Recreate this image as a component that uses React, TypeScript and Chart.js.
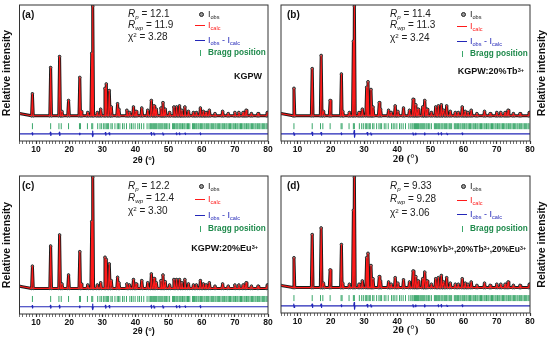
import React, { useEffect, useRef } from 'react';
import { Chart, registerables } from 'chart.js';
Chart.register(...registerables);

// ---------- data ----------
const peakPos = [8.9, 14.4, 17.1, 17.8, 19.8, 23.2, 23.6, 25.6, 26.8, 27.1, 28.5, 29.5, 30.8, 31.2, 32.1, 32.7, 34.6, 35.0, 37.4, 38.2, 39.4, 40.2, 41.9, 43.7, 44.8, 45.6, 46.3, 47.7, 48.3, 49.0, 50.3, 51.6, 52.4, 53.3, 54.0, 54.9, 56.0, 57.5, 58.4, 59.6, 60.5, 61.3, 62.3, 64.0, 66.3, 68.0, 70.0, 71.2, 72.5, 73.4, 75.0, 77.0, 79.8];

const heightsA = [0.20, 0.44, 0.54, 0.04, 0.14, 0.35, 0.04, 0.03, 0.57, 1.00, 0.03, 0.06, 0.25, 0.29, 0.23, 0.08, 0.11, 0.06, 0.05, 0.03, 0.08, 0.04, 0.07, 0.05, 0.14, 0.09, 0.06, 0.07, 0.12, 0.06, 0.03, 0.08, 0.08, 0.09, 0.05, 0.08, 0.04, 0.03, 0.03, 0.07, 0.04, 0.03, 0.05, 0.02, 0.04, 0.02, 0.03, 0.03, 0.03, 0.05, 0.02, 0.02, 0.03];
const heightsB = [0.25, 0.43, 0.55, 0.04, 0.14, 0.38, 0.04, 0.03, 0.68, 1.00, 0.03, 0.06, 0.26, 0.31, 0.24, 0.08, 0.12, 0.06, 0.05, 0.03, 0.09, 0.04, 0.07, 0.05, 0.15, 0.10, 0.06, 0.08, 0.14, 0.06, 0.03, 0.08, 0.09, 0.10, 0.05, 0.09, 0.04, 0.03, 0.03, 0.08, 0.04, 0.03, 0.05, 0.02, 0.04, 0.02, 0.03, 0.03, 0.03, 0.05, 0.02, 0.02, 0.03];
const heightsC = [0.20, 0.38, 0.48, 0.04, 0.12, 0.33, 0.04, 0.03, 0.60, 1.00, 0.03, 0.05, 0.28, 0.26, 0.22, 0.07, 0.10, 0.05, 0.04, 0.03, 0.08, 0.04, 0.07, 0.05, 0.13, 0.09, 0.05, 0.07, 0.12, 0.06, 0.03, 0.08, 0.08, 0.08, 0.05, 0.08, 0.04, 0.03, 0.03, 0.07, 0.04, 0.03, 0.05, 0.02, 0.04, 0.02, 0.03, 0.03, 0.03, 0.05, 0.02, 0.02, 0.03];
const heightsD = [0.27, 0.48, 0.54, 0.04, 0.16, 0.39, 0.04, 0.03, 0.70, 1.00, 0.03, 0.06, 0.27, 0.31, 0.20, 0.08, 0.10, 0.06, 0.05, 0.03, 0.09, 0.04, 0.07, 0.05, 0.15, 0.10, 0.06, 0.08, 0.14, 0.06, 0.03, 0.08, 0.09, 0.11, 0.05, 0.09, 0.04, 0.03, 0.03, 0.08, 0.04, 0.03, 0.05, 0.02, 0.04, 0.02, 0.03, 0.03, 0.03, 0.05, 0.02, 0.02, 0.03];

const braggPos = [8.9, 14.4, 16.9, 17.6, 19.8, 23.1, 23.4, 25.5, 26.8, 27.1, 28.6, 29.3, 29.8, 30.4, 30.8, 31.2, 31.6, 31.9, 32.6, 33.0, 33.8, 34.5, 34.9, 35.3, 36.1, 36.6, 37.3, 38.3, 38.8, 39.3, 39.9, 40.7, 41.2, 41.8, 42.5, 43.5, 44.1, 44.5, 44.8, 45.2, 45.5, 45.8, 46.1, 46.4, 46.8, 47.1, 47.4, 47.7, 48.0, 48.3, 48.7, 49.0, 49.4, 49.8, 50.3, 51.2, 51.5, 51.8, 52.2, 52.5, 52.8, 53.2, 53.5, 53.8, 54.2, 54.6, 54.9, 55.3, 55.7, 56.0, 56.4, 57.2, 57.5, 57.8, 58.2, 58.5, 58.9, 59.2, 59.6, 59.9, 60.3, 60.7, 61.0, 61.4, 61.8, 62.1, 62.5, 62.9, 63.2, 63.6, 64.0, 64.3, 64.7, 65.1, 65.4, 65.8, 66.2, 66.5, 66.9, 67.3, 67.6, 68.0, 68.4, 68.7, 69.1, 69.5, 69.8, 70.2, 70.6, 70.9, 71.3, 71.7, 72.0, 72.4, 72.8, 73.1, 73.5, 73.9, 74.2, 74.6, 75.0, 75.3, 75.7, 76.1, 76.4, 76.8, 77.2, 77.5, 77.9, 78.3, 78.6, 79.0, 79.4, 79.7];

const diffPos = [8.9, 14.4, 17.1, 23.2, 27.1, 31.0, 32.1, 44.8, 45.6, 48.3, 52.4, 53.3, 55.0, 59.6];
const diffAmpA = [0.010, 0.015, 0.015, 0.008, 0.025, 0.012, 0.010, 0.012, 0.010, 0.010, 0.008, 0.008, 0.006, 0.008];
const diffAmpB = [0.012, 0.015, 0.012, 0.008, 0.030, 0.012, 0.010, 0.010, 0.008, 0.010, 0.008, 0.010, 0.006, 0.008];
const diffAmpC = [0.010, 0.012, 0.012, 0.008, 0.025, 0.012, 0.010, 0.012, 0.010, 0.010, 0.008, 0.008, 0.006, 0.008];
const diffAmpD = [0.015, 0.015, 0.015, 0.008, 0.030, 0.012, 0.010, 0.010, 0.008, 0.010, 0.008, 0.010, 0.006, 0.008];

const panelTags = ['(a)', '(b)', '(c)', '(d)'];
const rpValues = ['12.1', '11.4', '12.2', '9.33'];
const rwpValues = ['11.9', '11.3', '12.4', '9.28'];
const chiValues = ['3.28', '3.24', '3.30', '3.06'];
const xTickLabels = [10, 20, 30, 40, 50, 60, 70, 80];
const xMin = 5;
const xMax = 80;
const bgStart = 0.02;
const bgEnd = 0.03;
const braggLevel = -0.095;
const diffLevel = -0.165;

// ---------- helpers ----------
const W = 275;
const H = 171;
const SANS = '"Liberation Sans", Arial, sans-serif';
const SERIF = '"Liberation Serif", "Times New Roman", serif';

function profile(h: number[]) {
  const w = 0.25;
  const pts: { x: number; y: number }[] = [{ x: xMin, y: bgStart }];
  peakPos.forEach((p, i) => {
    const prev = i > 0 ? peakPos[i - 1] : -Infinity;
    const next = i < peakPos.length - 1 ? peakPos[i + 1] : Infinity;
    const lb = Math.max(p - w, (p + prev) / 2);
    const rb = Math.min(p + w, (p + next) / 2);
    if (pts[pts.length - 1].x < lb) pts.push({ x: lb, y: 0 });
    pts.push({ x: p, y: h[i] });
    pts.push({ x: rb, y: 0 });
  });
  pts.push({ x: xMax, y: bgEnd });
  return pts;
}

function diffCurve(a: number[]) {
  const pts: { x: number; y: number }[] = [{ x: xMin, y: diffLevel }];
  diffPos.forEach((p, i) => {
    pts.push(
      { x: p - 0.2, y: diffLevel },
      { x: p - 0.05, y: diffLevel + a[i] },
      { x: p + 0.05, y: diffLevel - a[i] },
      { x: p + 0.2, y: diffLevel }
    );
  });
  pts.push({ x: xMax, y: diffLevel });
  return pts;
}

const frameAndTitle = {
  id: 'frameAndTitle',
  afterDraw(chart: any, _a: any, opts: any) {
    const { ctx, chartArea } = chart;
    ctx.save();
    ctx.strokeStyle = '#333';
    ctx.lineWidth = 1;
    ctx.strokeRect(chartArea.left, chartArea.top, chartArea.right - chartArea.left, chartArea.bottom - chartArea.top);
    ctx.translate(opts.x, (chartArea.top + chartArea.bottom) / 2);
    ctx.rotate(-Math.PI / 2);
    ctx.fillStyle = '#111';
    ctx.font = 'bold 10.5px ' + SANS;
    ctx.textAlign = 'center';
    ctx.textBaseline = 'middle';
    ctx.fillText('Relative intensity', 0, 0);
    ctx.restore();
  },
};

type Cfg = {
  idx: number;
  left: number;
  top: number;
  heights: number[];
  diffAmp: number[];
  area: { l: number; r: number; t: number; b: number };
  yTitleX: number;
  titleFont: string;
  titleSize: number;
  tagX: number;
  statsX: number;
  statsY: number[];
  legX: number;
  legY: number[];
  sample: React.ReactNode;
  sampleRight: number;
  sampleY: number;
  sampleSize: number;
};

const Sub = ({ children }: any) => (
  <span style={{ fontSize: '0.62em', position: 'relative', top: '0.35em' }}>{children}</span>
);
const Sup = ({ children }: any) => (
  <span style={{ fontSize: '0.62em', position: 'relative', top: '-0.45em' }}>{children}</span>
);

function Txt({ x, y, right, children, style }: any) {
  const pos: any = right !== undefined ? { right: W - right } : { left: x };
  return (
    <div
      style={{
        position: 'absolute',
        top: y - 6,
        lineHeight: '12px',
        height: 12,
        whiteSpace: 'nowrap',
        fontFamily: SANS,
        fontSize: 10,
        color: '#222',
        ...pos,
        ...style,
      }}
    >
      {children}
    </div>
  );
}

function Panel({ cfg }: { cfg: Cfg }) {
  const ref = useRef<HTMLCanvasElement>(null);
  useEffect(() => {
    const obs = profile(cfg.heights);
    const calc = profile(cfg.heights);
    const padBottom = 5;
    const chart = new Chart(ref.current as HTMLCanvasElement, {
      type: 'line',
      data: {
        datasets: [
          {
            label: 'Icalc',
            data: calc,
            borderColor: '#ff1a1a',
            borderWidth: 1.1,
            borderJoinStyle: 'round',
            pointRadius: 0,
            order: 0,
          },
          {
            label: 'Iobs',
            data: obs,
            borderColor: '#1a1a1a',
            borderWidth: 3,
            borderJoinStyle: 'round',
            pointRadius: 1.3,
            pointBackgroundColor: '#9a9a9a',
            pointBorderColor: '#222',
            pointBorderWidth: 0.8,
            order: 1,
          },
          {
            label: 'Iobs - Icalc',
            data: diffCurve(cfg.diffAmp),
            borderColor: '#2327b8',
            borderWidth: 1.2,
            borderJoinStyle: 'round',
            pointRadius: 0,
            order: 2,
          },
          {
            label: 'Bragg position',
            data: braggPos.map((p) => ({ x: p, y: braggLevel })),
            showLine: false,
            pointStyle: 'line',
            rotation: 90,
            pointRadius: 3,
            borderColor: '#3ba76b',
            borderWidth: 1,
            order: 3,
          } as any,
        ],
      },
      options: {
        animation: false,
        responsive: false,
        devicePixelRatio: 1,
        layout: {
          padding: { left: cfg.area.l, right: W - cfg.area.r, top: cfg.area.t, bottom: padBottom },
        },
        plugins: {
          legend: { display: false },
          tooltip: { enabled: false },
          frameAndTitle: { x: cfg.yTitleX },
        } as any,
        scales: {
          x: {
            type: 'linear',
            min: xMin,
            max: xMax,
            afterFit: (s: any) => {
              s.height = H - padBottom - cfg.area.b;
            },
            border: { display: false },
            grid: {
              drawOnChartArea: false,
              drawTicks: true,
              tickLength: 3,
              tickColor: '#333',
              tickWidth: (c: any) => (xTickLabels.includes(c.tick?.value) ? 1.2 : 0.7),
            },
            ticks: {
              stepSize: 1,
              autoSkip: false,
              maxRotation: 0,
              padding: 1,
              color: '#111',
              font: { family: SANS, size: 8.5, weight: 'bold' },
              callback: (v: any) => (xTickLabels.includes(Number(v)) ? String(v) : ''),
            },
            title: {
              display: true,
              text: '2θ (°)',
              color: '#111',
              padding: { top: 0, bottom: 0 },
              font: { family: cfg.titleFont, size: cfg.titleSize, weight: 'bold' },
            },
          },
          y: {
            display: false,
            min: -0.23,
            max: 1.01,
          },
        },
      },
      plugins: [frameAndTitle],
    } as any);
    return () => chart.destroy();
  }, []);

  const i = cfg.idx;
  return (
    <div style={{ position: 'absolute', left: cfg.left, top: cfg.top, width: W, height: H }}>
      <canvas ref={ref} width={W} height={H} style={{ width: W, height: H, display: 'block' }} />
      <Txt x={cfg.tagX} y={15} style={{ fontWeight: 'bold', fontSize: 10, color: '#111' }}>
        {panelTags[i]}
      </Txt>
      <Txt x={cfg.statsX} y={cfg.statsY[0]}>
        <i>R</i>
        <Sub>
          <i>p</i>
        </Sub>{' '}
        = {rpValues[i]}
      </Txt>
      <Txt x={cfg.statsX} y={cfg.statsY[1]}>
        <i>R</i>
        <Sub>
          <i>wp</i>
        </Sub>{' '}
        = {rwpValues[i]}
      </Txt>
      <Txt x={cfg.statsX} y={cfg.statsY[2]}>
        χ<Sup>2</Sup> = {chiValues[i]}
      </Txt>
      {/* legend */}
      <div
        style={{
          position: 'absolute',
          left: cfg.legX - 9,
          top: cfg.legY[0] - 2,
          width: 3,
          height: 3,
          borderRadius: 3,
          background: '#999',
          border: '0.8px solid #222',
        }}
      />
      <Txt x={cfg.legX} y={cfg.legY[0]} style={{ fontSize: 9 }}>
        I<Sub>obs</Sub>
      </Txt>
      <div
        style={{ position: 'absolute', left: cfg.legX - 13, top: cfg.legY[1], width: 10, height: 1.3, background: '#ff1a1a' }}
      />
      <Txt x={cfg.legX} y={cfg.legY[1]} style={{ fontSize: 9, color: '#ff1a1a' }}>
        I<Sub>calc</Sub>
      </Txt>
      <div
        style={{ position: 'absolute', left: cfg.legX - 13, top: cfg.legY[2], width: 10, height: 1, background: '#2327b8' }}
      />
      <Txt x={cfg.legX} y={cfg.legY[2]} style={{ fontSize: 9, color: '#2327b8' }}>
        I<Sub>obs</Sub> - I<Sub>calc</Sub>
      </Txt>
      <div
        style={{ position: 'absolute', left: cfg.legX - 8, top: cfg.legY[3] - 3, width: 1, height: 6, background: '#3ba76b' }}
      />
      <Txt x={cfg.legX} y={cfg.legY[3]} style={{ fontSize: 8.2, fontWeight: 'bold', color: '#1f8a4c' }}>
        Bragg position
      </Txt>
      <Txt right={cfg.sampleRight} y={cfg.sampleY} style={{ fontSize: cfg.sampleSize, fontWeight: 'bold', color: '#111' }}>
        {cfg.sample}
      </Txt>
    </div>
  );
}

const panels: Cfg[] = [
  {
    idx: 0,
    left: 0,
    top: 0,
    heights: heightsA,
    diffAmp: diffAmpA,
    area: { l: 19.5, r: 268, t: 4, b: 141 },
    yTitleX: 7,
    titleFont: SANS,
    titleSize: 9,
    tagX: 22,
    statsX: 128,
    statsY: [14, 25, 37],
    legX: 208,
    legY: [14, 25, 40, 53],
    sample: 'KGPW',
    sampleRight: 262,
    sampleY: 76,
    sampleSize: 9,
  },
  {
    idx: 1,
    left: 275,
    top: 0,
    heights: heightsB,
    diffAmp: diffAmpB,
    area: { l: 6, r: 255, t: 4, b: 141 },
    yTitleX: 267,
    titleFont: SERIF,
    titleSize: 11,
    tagX: 12,
    statsX: 115,
    statsY: [14, 25, 38],
    legX: 195,
    legY: [14, 26, 41, 54],
    sample: (
      <>
        KGPW:20%Tb<Sup>3+</Sup>
      </>
    ),
    sampleRight: 249,
    sampleY: 71,
    sampleSize: 9,
  },
  {
    idx: 2,
    left: 0,
    top: 171,
    heights: heightsC,
    diffAmp: diffAmpC,
    area: { l: 19.5, r: 268, t: 5, b: 143 },
    yTitleX: 7,
    titleFont: SANS,
    titleSize: 9,
    tagX: 22,
    statsX: 128,
    statsY: [15, 27, 40],
    legX: 208,
    legY: [15, 28, 44, 58],
    sample: (
      <>
        KGPW:20%Eu<Sup>3+</Sup>
      </>
    ),
    sampleRight: 258,
    sampleY: 77,
    sampleSize: 9,
  },
  {
    idx: 3,
    left: 275,
    top: 171,
    heights: heightsD,
    diffAmp: diffAmpD,
    area: { l: 6, r: 255, t: 5, b: 142 },
    yTitleX: 267,
    titleFont: SERIF,
    titleSize: 11,
    tagX: 12,
    statsX: 115,
    statsY: [15, 28, 42],
    legX: 195,
    legY: [15, 29, 43, 58],
    sample: (
      <>
        KGPW:10%Yb<Sup>3+</Sup>,20%Tb<Sup>3+</Sup>,20%Eu<Sup>3+</Sup>
      </>
    ),
    sampleRight: 251,
    sampleY: 78,
    sampleSize: 8.5,
  },
];

export default function App() {
  return (
    <div style={{ position: 'fixed', left: 0, top: 0, width: 550, height: 342, background: '#fff', overflow: 'hidden' }}>
      {panels.map((p) => (
        <Panel key={p.idx} cfg={p} />
      ))}
    </div>
  );
}
